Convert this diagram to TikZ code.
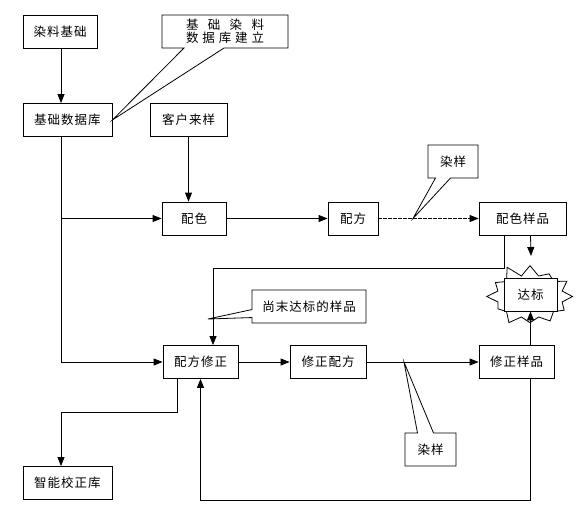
\documentclass[tikz,border=0pt]{standalone}
\usepackage{fontspec}
\newfontfamily\cjk[LetterSpace=8]{Noto Sans CJK SC}
\usetikzlibrary{positioning,arrows.meta,shapes.callouts,shapes.symbols}

\tikzset{
  box/.style={draw, line width=0.8pt, fill=white, minimum height=33pt, inner sep=2pt,
    font=\cjk\fontsize{12.5}{15}\selectfont},
  note/.style={box, rectangle callout},
  arr/.style={line width=0.8pt, -{Triangle[length=9pt,width=7pt]}},
}

\begin{document}
\begin{tikzpicture}[x=1pt, y=-1pt]
\useasboundingbox (0,0) rectangle (581,516);

\node[box, minimum width=74pt] (base) at (60,31.5) {染料基础};
\node[box, minimum width=89pt] (db) at (67.5,120) {基础数据库};
\node[box, minimum width=77pt] (client) at (188.5,120) {客户来样};
\node[box, minimum width=64pt] (color) at (194,218.5) {配色};
\node[box, minimum width=50pt] (recipe) at (353,218.5) {配方};
\node[box, minimum width=87pt] (colsample) at (522.5,218.5) {配色样品};
\node[box, minimum width=75pt] (fix) at (200.5,362) {配方修正};
\node[box, minimum width=76pt] (fixrecipe) at (328,362) {修正配方};
\node[box, minimum width=75pt] (fixsample) at (516.5,362) {修正样品};
\node[box, minimum width=89pt] (smart) at (67.5,483) {智能校正库};

\node[starburst, draw, line width=0.8pt, fill=white, starburst points=12,
  starburst point height=13pt, random starburst=11, inner sep=0pt]
  (reach) at (530,296.5) {\phantom{\rule{47pt}{30pt}}};
\node[box, minimum width=53pt] (reachbox) at (530.5,294.5) {达标};

\coordinate (dye1) at (413,218.5);
\coordinate (dye2) at (404,362);
\coordinate (miss) at (208,319);

\node[note, minimum width=126pt, align=center, callout pointer width=40pt,
  callout absolute pointer={(db.east)}] (build) at (225,31.5)
  {\makebox[78pt][s]{基\hfil 础\hfil 染\hfil 料}\\[-2pt]\makebox[78pt][s]{数\hfil 据\hfil 库\hfil 建\hfil 立}};
\node[note, minimum width=50pt, callout pointer width=15pt,
  callout absolute pointer={(dye1)}] (dyetop) at (453,161.5) {染样};
\node[note, minimum width=51pt, callout pointer width=16pt,
  callout absolute pointer={(dye2)}] (dyebot) at (430.5,449.5) {染样};
\node[note, minimum width=114pt, callout pointer width=8pt,
  callout absolute pointer={(miss)}] (notyet) at (309,306.5) {尚末达标的样品};

\draw[arr] (base.south -| 61,0) -- (db.north -| 61,0);
\draw[arr] (db.south -| 61,0) |- (fix.west);
\draw[arr] (color.west -| 61,0) -- (color.west);
\draw[arr] (client.south) -- (client.south |- color.north);
\draw[arr] (color.east) -- (recipe.west);
\draw[arr, dash pattern=on 4pt off 1pt] (recipe.east) -- (colsample.west);
\draw[arr] (colsample.south -| 504,0) |- (213,268) -- (fix.north -| 213,0);
\draw[arr] (colsample.south -| reachbox) -- (531,256);
\draw[arr] (fix.east) -- (fixrecipe.west);
\draw[arr] (fixrecipe.east) -- (fixsample.west);
\draw[arr] (fixsample.north -| reachbox) -- (reachbox.south);
\draw[arr] (fixsample.south -| reachbox) |- (fix.south |- 0,500) -- (fix.south);
\draw[arr] (fix.south -| 177,0) |- (61,412) -- (smart.north -| 61,0);

\end{tikzpicture}
\end{document}
